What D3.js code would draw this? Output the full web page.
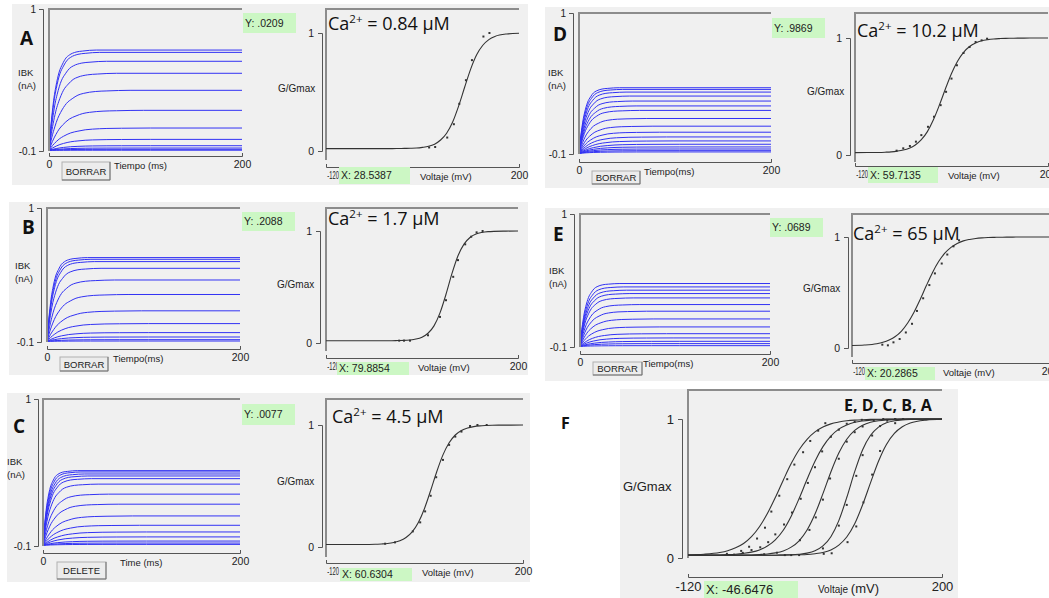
<!DOCTYPE html>
<meta charset="utf-8">
<style>
body { margin: 0; background: #fff; }
svg { font-family: "Liberation Sans", Arial, sans-serif; }
.frame { stroke: #8c8c8c; stroke-width: 2; fill: none; }
.trace { fill: none; stroke: #3232f4; stroke-width: 1; }
.fit { fill: none; stroke: #333; stroke-width: 1.1; }
.dot { fill: #333; }
.lbl { fill: #222; }
.green { fill: #ccf7c4; }
.big { font-family: "Open Sans", sans-serif; fill: #111; }
</style>
<svg width="1049" height="598"></svg>
<script src="https://d3js.org/d3.v7.min.js"></script>
<script>

// ---- data ----
var caLevels = ["0.84", "1.7", "4.5", "10.2", "65"];
var yReadout = [".0209", ".2088", ".0077", ".9869", ".0689"];
var xReadout = ["28.5387", "79.8854", "60.6304", "59.7135", "20.2865"];
var xReadoutF = "-46.6476";

// steady-state current of each trace (nA), top to bottom
var platA = [0.682, 0.664, 0.595, 0.502, 0.370, 0.215, 0.078, -0.010, -0.059, -0.077, -0.087, -0.094];
var platB = [0.593, 0.579, 0.560, 0.505, 0.409, 0.290, 0.156, 0.051, -0.023, -0.059, -0.081, -0.092];
var platC = [0.464, 0.454, 0.439, 0.424, 0.404, 0.363, 0.288, 0.213, 0.125, 0.055, 0.005, -0.032, -0.063, -0.078, -0.088];
var platD = [0.417, 0.404, 0.383, 0.352, 0.313, 0.275, 0.240, 0.177, 0.117, 0.070, 0.033, 0.002, -0.024, -0.045, -0.061, -0.074, -0.084];
var platE = [0.425, 0.397, 0.370, 0.342, 0.306, 0.251, 0.196, 0.132, 0.066, 0.010, -0.025, -0.053, -0.072, -0.089];
// rise time constant of each trace (ms)
var tauA = [7, 7.5, 8.5, 10, 12, 14, 15, 15, 15, 15, 15, 15];
var tauB = [6, 6.5, 7, 8, 10, 12, 14, 15, 15, 15, 15, 15];
var tauC = [5, 5.5, 6, 6.5, 7, 8, 9.5, 11, 13, 14, 15, 15, 15, 15, 15];
var tauD = [6, 6.5, 7, 7.5, 8, 8.5, 9, 10, 11, 12, 13, 14, 15, 15, 15, 15, 15];
var tauE = [6, 6.5, 7, 7.5, 8, 9, 10, 11, 12, 13, 14, 15, 15, 15];
// shared normalised rise of a trace: time in units of tau, fraction of the step
var riseU = [0, 0.25, 0.5, 0.75, 1, 1.5, 2, 2.5, 3, 4, 5, 7];
var riseF = [0, 0.22, 0.39, 0.53, 0.63, 0.78, 0.86, 0.92, 0.95, 0.98, 0.99, 1];
var traceStart = -0.095;

// fitted G/Gmax curves sampled at vFit (mV)
var vFit = [-120, -100, -80, -70, -60, -50, -40, -30, -20, -10, 0, 10, 20, 30, 40, 50, 60, 70, 80, 90, 100, 110, 120, 130, 140, 150, 160, 180, 200];
var fitA = [.02, .02, .02, .02, .02, .02, .02, .02, .02, .02, .021, .022, .023, .025, .031, .040, .058, .093, .151, .246, .383, .542, .696, .817, .896, .944, .971, .992, .998];
var fitB = [.02, .02, .02, .02, .02, .02, .02, .02, .02, .02, .022, .023, .027, .035, .052, .087, .153, .269, .435, .621, .779, .883, .942, .973, .987, .994, .997, .999, 1];
var fitC = [.02, .02, .02, .02, .021, .021, .022, .025, .029, .037, .051, .078, .124, .201, .316, .463, .619, .755, .854, .918, .955, .976, .987, .993, .996, .998, .999, .999, 1];
var fitD = [.02, .021, .022, .024, .027, .033, .042, .058, .086, .131, .2, .301, .428, .566, .696, .801, .877, .927, .957, .976, .986, .992, .995, .997, .998, .999, .999, 1, 1];
var fitE = [.023, .027, .039, .052, .073, .104, .153, .225, .32, .435, .56, .679, .779, .854, .907, .942, .965, .978, .987, .992, .995, .997, .998, .999, .999, 1, 1, 1, 1];

// measured points [mV, G/Gmax]
var dotsA = [[51, 0.03], [61, 0.034], [81, 0.114], [92, 0.227], [101, 0.40], [112, 0.60], [122, 0.77], [141, 0.97], [151, 1.0]];
var dotsB = [[2, 0.021], [10, 0.021], [20, 0.021], [50, 0.069], [70, 0.233], [80, 0.382], [92, 0.591], [100, 0.74], [112, 0.881], [122, 0.949], [131, 0.988], [141, 1.0]];
var dotsC = [[-24, 0.027], [-8, 0.038], [21, 0.128], [33, 0.202], [41, 0.292], [50, 0.42], [59, 0.572], [70, 0.714], [80, 0.837], [90, 0.905], [100, 0.946], [114, 0.992], [126, 1.0], [141, 1.0]];
var dotsD = [[-51, 0.037], [-40, 0.057], [-29, 0.077], [-19, 0.114], [-10, 0.17], [1, 0.241], [11, 0.327], [22, 0.426], [31, 0.54], [40, 0.653], [49, 0.767], [60, 0.872], [70, 0.923], [80, 0.966], [90, 0.98], [99, 0.994]];
var dotsE = [[-71, 0.03], [-62, 0.024], [-53, 0.051], [-43, 0.081], [-33, 0.14], [-23, 0.218], [-15, 0.334], [-5, 0.448], [5, 0.567], [14, 0.672], [25, 0.761], [34, 0.842], [44, 0.916], [53, 0.97]];

// ---- layout ----
var panels = [
  {letter: "A", bg: [12, 4, 516, 181], lx: 20, ly: 45,
   L: {x0: 49, x1: 242, top: 9, bot: 151, ax: 43, xa: 156, ibkX: 18, ibkY: 76, tx: 114, tt: "Tiempo (ms)", btn: [62, 162, 48, 18], bt: "BORRAR"},
   yb: [243, 13, 53, 20],
   R: {x0: 326, x1: 519, top: 9, y1: 33, y0: 151, ax: 322, fb: 160, xa: 167, gx: 278, gy: 92, vx: 420, xb: [339, 167, 71, 17], cx: 328, cy: 30},
   plat: platA, tau: tauA, fit: fitA, dots: dotsA},
  {letter: "B", bg: [9, 202, 519, 173], lx: 22, ly: 234,
   L: {x0: 47, x1: 240, top: 208, bot: 342, ax: 41, xa: 349, ibkX: 15, ibkY: 269, tx: 113, tt: "Tiempo(ms)", btn: [60, 357, 48, 14], bt: "BORRAR"},
   yb: [242, 212, 53, 19],
   R: {x0: 326, x1: 518, top: 208, y1: 231, y0: 343, ax: 320, fb: 351, xa: 358, gx: 277, gy: 288, vx: 418, xb: [337, 362, 72, 13], cx: 328, cy: 225},
   plat: platB, tau: tauB, fit: fitB, dots: dotsB},
  {letter: "C", bg: [7, 393, 523, 189], lx: 13, ly: 433,
   L: {x0: 43, x1: 240, top: 399, bot: 546, ax: 38, xa: 553, ibkX: 7, ibkY: 465, tx: 120, tt: "Time (ms)", btn: [57, 562, 49, 17], bt: "DELETE"},
   yb: [242, 404, 53, 21],
   R: {x0: 326, x1: 523, top: 399, y1: 425, y0: 547, ax: 322, fb: 557, xa: 563, gx: 277, gy: 485, vx: 422, xb: [340, 568, 72, 13], cx: 332, cy: 423},
   plat: platC, tau: tauC, fit: fitC, dots: dotsC},
  {letter: "D", bg: [545, 7, 504, 181], lx: 553, ly: 41,
   L: {x0: 579, x1: 771, top: 13, bot: 154, ax: 573, xa: 162, ibkX: 548, ibkY: 76, tx: 644, tt: "Tiempo(ms)", btn: [592, 171, 48, 13], bt: "BORRAR"},
   yb: [772, 18, 53, 20],
   R: {x0: 855, x1: 1048, top: 13, y1: 38, y0: 155, ax: 850, fb: 162, xa: 166, gx: 807, gy: 95, vx: 948, xb: [868, 167, 70, 16], cx: 857, cy: 37},
   plat: platD, tau: tauD, fit: fitD, dots: dotsD},
  {letter: "E", bg: [545, 208, 504, 173], lx: 553, ly: 241,
   L: {x0: 580, x1: 770, top: 214, bot: 347, ax: 574, xa: 354, ibkX: 549, ibkY: 274, tx: 643, tt: "Tiempo(ms)", btn: [593, 362, 49, 13], bt: "BORRAR"},
   yb: [770, 218, 53, 19],
   R: {x0: 852, x1: 1050, top: 214, y1: 237, y0: 348, ax: 848, fb: 357, xa: 363, gx: 803, gy: 292, vx: 943, xb: [865, 367, 70, 13], cx: 853, cy: 240},
   plat: platE, tau: tauE, fit: fitE, dots: dotsE}
];

var svg = d3.select("svg");
var fmt = function(d) { return String(d); };

function styleAxis(ax, fs) {
  ax.attr("font-family", null).attr("font-size", fs);
  ax.selectAll("path, line").attr("stroke", "#555");
  ax.selectAll("text").attr("fill", "#222");
}

function text(g, x, y, s, fs, anchor) {
  return g.append("text").attr("class", "lbl").attr("x", x).attr("y", y)
    .attr("font-size", fs).attr("text-anchor", anchor || "start").text(s);
}

function greenBox(g, b, s, fs) {
  g.append("rect").attr("class", "green").attr("x", b[0]).attr("y", b[1]).attr("width", b[2]).attr("height", b[3]);
  text(g, b[0] + 2, b[1] + b[3] / 2 + fs * 0.36, s, fs);
}

function tracePoints(plat, tau) {
  var pts = riseU.map(function(u, i) { return [u * tau, traceStart + (plat - traceStart) * riseF[i]]; });
  pts.push([200, plat]);
  return pts;
}

// G/Gmax plot, used by panels A-E and F
function gPlot(g, R, fits, dotSets, fs, narrowLeft) {
  var x = d3.scaleLinear().domain([-120, 200]).range([R.x0, R.x1]);
  var y = d3.scaleLinear().domain([0, 1]).range([R.y0, R.y1]);

  g.append("path").attr("class", "frame")
    .attr("d", "M" + R.x0 + "," + R.fb + "V" + R.top + "H" + R.x1);

  var ya = g.append("g").attr("transform", "translate(" + R.ax + ",0)")
    .call(d3.axisLeft(y).tickValues([0, 1]).tickSize(4).tickPadding(4).tickFormat(fmt));
  styleAxis(ya, fs);

  var xa = g.append("g").attr("transform", "translate(0," + R.xa + ")")
    .call(d3.axisBottom(x).tickValues([-120, 200]).tickSize(-3).tickSizeOuter(-3).tickPadding(5).tickFormat(fmt));
  styleAxis(xa, fs);
  if (narrowLeft) {
    // the applet squeezes "-120" in before the readout box
    xa.selectAll(".tick text").filter(function(d) { return d === -120; })
      .attr("text-anchor", "start").attr("x", 1.5).attr("transform", "scale(0.55,1)");
  }

  var line = d3.line().x(function(d) { return x(d[0]); }).y(function(d) { return y(d[1]); }).curve(d3.curveMonotoneX);
  fits.forEach(function(f) {
    g.append("path").attr("class", "fit").attr("d", line(vFit.map(function(v, i) { return [v, f[i]]; })));
  });
  dotSets.forEach(function(ds) {
    g.selectAll(null).data(ds).enter().append("rect").attr("class", "dot")
      .attr("x", function(d) { return x(d[0]) - 1; })
      .attr("y", function(d) { return y(d[1]) - 1; })
      .attr("width", 2).attr("height", 2);
  });
}

panels.forEach(function(p, k) {
  var g = svg.append("g");
  g.append("rect").attr("x", p.bg[0]).attr("y", p.bg[1]).attr("width", p.bg[2]).attr("height", p.bg[3]).attr("fill", "#f0f0f0");

  // current traces
  var L = p.L;
  var x = d3.scaleLinear().domain([0, 200]).range([L.x0, L.x1]);
  var y = d3.scaleLinear().domain([-0.1, 1]).range([L.bot, L.top]);
  var line = d3.line().x(function(d) { return x(d[0]); }).y(function(d) { return y(d[1]); }).curve(d3.curveMonotoneX);
  p.plat.forEach(function(pl, i) {
    g.append("path").attr("class", "trace").attr("d", line(tracePoints(pl, p.tau[i])));
  });
  g.append("path").attr("class", "frame").attr("d", "M" + L.x0 + "," + L.bot + "V" + L.top + "H" + L.x1);

  var ya = g.append("g").attr("transform", "translate(" + L.ax + ",0)")
    .call(d3.axisLeft(y).tickValues([-0.1, 1]).tickSize(4).tickPadding(3).tickFormat(fmt));
  styleAxis(ya, 10);
  var xa = g.append("g").attr("transform", "translate(0," + L.xa + ")")
    .call(d3.axisBottom(x).tickValues([0, 200]).tickSize(-3).tickSizeOuter(-3).tickPadding(5).tickFormat(fmt));
  styleAxis(xa, 10.5);

  text(g, L.ibkX, L.ibkY, "IBK", 9.5);
  text(g, L.ibkX, L.ibkY + 13, "(nA)", 9.5);
  text(g, L.tx, L.xa + 13, L.tt, 9.5);

  var b = L.btn;
  g.append("rect").attr("x", b[0]).attr("y", b[1]).attr("width", b[2]).attr("height", b[3])
    .attr("fill", "#ececec").attr("stroke", "#b0b0b0");
  g.append("path").attr("d", "M" + b[0] + "," + (b[1] + b[3]) + "H" + (b[0] + b[2]) + "V" + b[1])
    .attr("stroke", "#707070").attr("fill", "none");
  text(g, b[0] + b[2] / 2, b[1] + b[3] / 2 + 3.5, L.bt, 9.5, "middle");

  g.append("text").attr("class", "big").attr("x", p.lx).attr("y", p.ly)
    .attr("font-size", 19).attr("font-weight", "bold").text(p.letter);

  greenBox(g, p.yb, "Y: " + yReadout[k], 10.5);

  // conductance plot
  var R = p.R;
  gPlot(g, R, [p.fit], [p.dots], 10.5, true);
  text(g, R.gx, R.gy, "G/Gmax", 10);
  text(g, R.vx, R.xa + 13, "Voltaje (mV)", 9.5);
  greenBox(g, R.xb, "X: " + xReadout[k], 10.5);

  var ca = g.append("text").attr("class", "big").attr("x", R.cx).attr("y", R.cy).attr("font-size", 18);
  ca.append("tspan").text("Ca");
  ca.append("tspan").attr("dy", -7).attr("font-size", 11.5).text("2+");
  ca.append("tspan").attr("dy", 7).text(" = " + caLevels[k] + " \u03bcM");
});

// panel F: all five fits together
var gf = svg.append("g");
gf.append("rect").attr("x", 620).attr("y", 389).attr("width", 338).attr("height", 209).attr("fill", "#f0f0f0");
var RF = {x0: 688, x1: 942, top: 390, y1: 419, y0: 558, ax: 682, fb: 558, xa: 577, xb: [704, 581, 94, 17]};
gPlot(gf, RF, [fitE, fitD, fitC, fitB, fitA], [dotsE, dotsD, dotsC, dotsB, dotsA], 13, false);
text(gf, 623, 491, "G/Gmax", 13);
var vt = text(gf, 818, 593, "", 10);
vt.append("tspan").text("Voltaje ");
vt.append("tspan").attr("font-size", 13).text("(mV)");
greenBox(gf, RF.xb, "X: " + xReadoutF, 13);
gf.append("text").attr("class", "big").attr("x", 561).attr("y", 429).attr("font-size", 16).attr("font-weight", "bold").text("F");
gf.append("text").attr("class", "big").attr("x", 844).attr("y", 411).attr("font-size", 16).attr("font-weight", "bold").text("E, D, C, B, A");

</script>
